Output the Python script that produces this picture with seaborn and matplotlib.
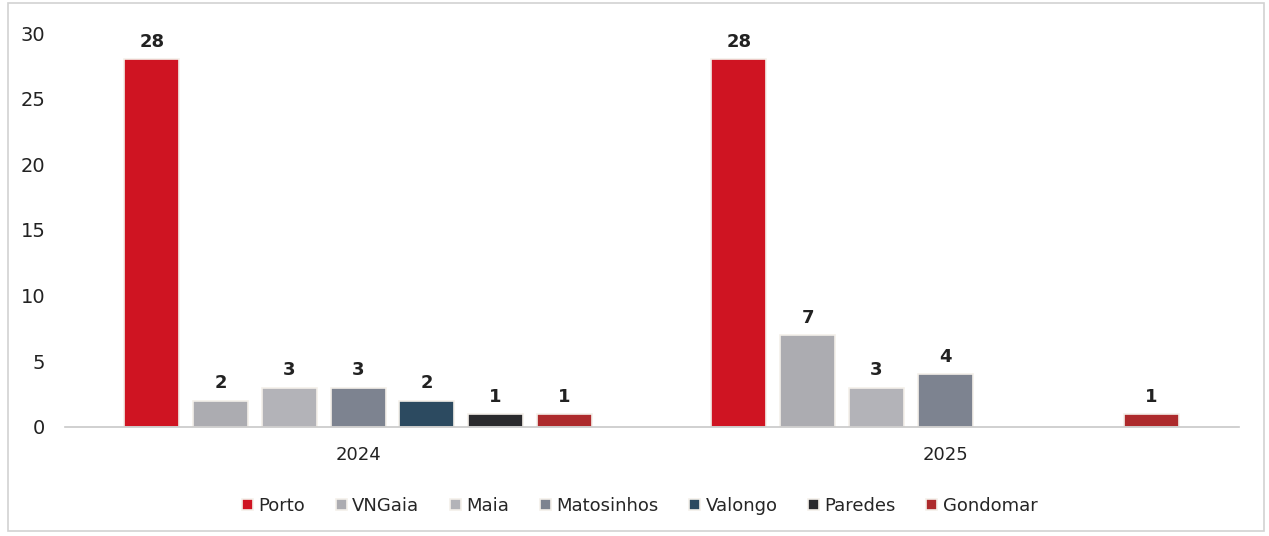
import pandas as pd
import matplotlib.pyplot as plt
import seaborn as sns
from matplotlib.patches import Rectangle

# data
years = ['2024', '2025']
municipios = ['Porto', 'VNGaia', 'Maia', 'Matosinhos', 'Valongo', 'Paredes', 'Gondomar']
valores_2024 = [28, 2, 3, 3, 2, 1, 1]
valores_2025 = [28, 7, 3, 4, None, None, 1]
cores = ['#cf1422', '#acacb1', '#b3b3b8', '#7d8390', '#2c4a60', '#2a2a2d', '#ad2a2c']

rows = []
for ano, vals in zip(years, [valores_2024, valores_2025]):
    for m, v in zip(municipios, vals):
        if v is not None:
            rows.append({'ano': ano, 'municipio': m, 'valor': v})
df = pd.DataFrame(rows)

sns.set_style('white')
plt.rcParams['font.family'] = ['DejaVu Sans']

fig = plt.figure(figsize=(12.69, 5.36), dpi=100)
ax = fig.add_axes([0.051, 0.2034, 0.925, 0.735])

sns.barplot(data=df, x='ano', y='valor', hue='municipio', order=years,
            hue_order=municipios, palette=cores, width=0.82, gap=0.2,
            edgecolor='#f4f0ea', linewidth=1.2, saturation=1, ax=ax)

for cont in ax.containers:
    ax.bar_label(cont, padding=6, fontsize=13, fontweight='bold', color='#222222')

ax.set_ylim(0, 30)
ax.set_xlim(-0.5, 1.5)
ax.set_yticks(range(0, 31, 5))
ax.tick_params(axis='y', labelsize=14, colors='#222222', pad=14, length=0)
ax.tick_params(axis='x', labelsize=13, colors='#222222', pad=14, length=0)
ax.set_xlabel('')
ax.set_ylabel('')
for s in ['top', 'right', 'left']:
    ax.spines[s].set_visible(False)
ax.spines['bottom'].set_color('#c8c8c8')
ax.spines['bottom'].set_linewidth(1.2)

handles, labels = ax.get_legend_handles_labels()
ax.legend(handles, labels, loc='center', bbox_to_anchor=(0.49, -0.2), ncol=7,
          frameon=False, fontsize=13, handlelength=0.6, handleheight=0.6,
          handletextpad=0.3, columnspacing=1.7)

# thin border around the figure
fig.patches.append(Rectangle((0.006, 0.01), 0.99, 0.985, transform=fig.transFigure,
                             fill=False, edgecolor='#d2d2d2', linewidth=1.2))

fig.savefig('out.png', dpi=100)
